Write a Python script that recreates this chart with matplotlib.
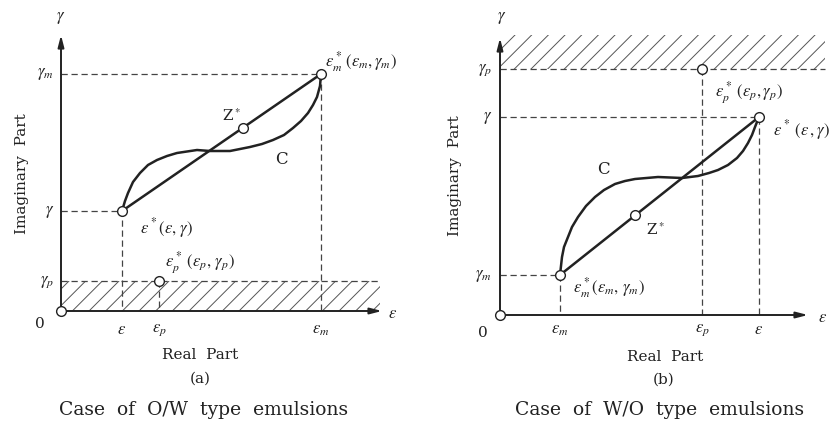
"""Complex permittivity diagrams for O/W and W/O type emulsions."""
import matplotlib.pyplot as plt

plt.rcParams["font.family"] = "DejaVu Serif"
plt.rcParams["mathtext.fontset"] = "stix"
plt.rcParams["hatch.linewidth"] = 0.7

INK = "#222222"

# panel (a): O/W  (arbitrary units)
a_eps, a_eps_p, a_eps_m = 6.1, 9.8, 26.0
a_gam, a_gam_p, a_gam_m = 10.0, 3.0, 23.7
a_z = (18.2, 18.3)
a_curve_x = [6.1, 6.4, 6.7, 7.2, 7.9, 8.7, 9.6, 10.6, 11.6, 13.6, 14.9, 16.9, 18.9,
             20.1, 21.2, 22.3, 23.2, 24.0, 24.7, 25.2, 25.6, 25.9, 26.0]
a_curve_y = [10.0, 11.0, 11.8, 12.9, 13.8, 14.6, 15.1, 15.5, 15.8, 16.1, 16.0, 16.0, 16.4,
             16.7, 17.1, 17.6, 18.3, 19.0, 19.8, 20.6, 21.4, 22.5, 23.7]

# panel (b): W/O
b_eps, b_eps_p, b_eps_m = 25.9, 20.2, 6.0
b_gam, b_gam_p, b_gam_m = 19.8, 24.6, 4.0
b_z = (13.5, 10.0)
b_curve_x = [6.0, 6.1, 6.2, 6.4, 6.8, 7.2, 7.8, 8.6, 9.5, 10.4, 11.5, 12.5, 13.5, 15.8,
             18.2, 19.8, 20.9, 21.8, 22.8, 23.7, 24.3, 24.8, 25.2, 25.5, 25.9]
b_curve_y = [4.0, 4.9, 5.8, 6.8, 7.8, 8.8, 9.8, 10.9, 11.8, 12.5, 13.1, 13.4, 13.6, 13.8,
             13.7, 13.9, 14.2, 14.5, 15.0, 15.7, 16.4, 17.2, 18.0, 18.8, 19.8]


def dashed(ax, xs, ys):
    ax.plot(xs, ys, ls=(0, (5, 3)), lw=0.9, color="#444444", zorder=2)


def circle(ax, x, y):
    ax.plot(x, y, "o", ms=7, mfc="white", mec=INK, mew=1.0, zorder=5)


def axes_arrows(ax, xend, yend):
    style = dict(arrowstyle="-|>,head_length=0.7,head_width=0.18", lw=1.4, color=INK,
                 shrinkA=0, shrinkB=0)
    ax.annotate("", xy=(xend, 0), xytext=(0, 0), arrowprops=style)
    ax.annotate("", xy=(0, yend), xytext=(0, 0), arrowprops=style)


def setup(ax, x0, x1, y0, y1):
    ax.set_xlim(x0, x1)
    ax.set_ylim(y0, y1)
    ax.axis("off")


fig = plt.figure(figsize=(8.38, 4.25), dpi=100)
ax1 = fig.add_axes([0, 0, 420 / 838, 1])
ax2 = fig.add_axes([420 / 838, 0, 418 / 838, 1])
setup(ax1, -6.1, 35.9, -11.4, 31.1)
setup(ax2, -8.0, 33.8, -11.0, 31.5)

tk = dict(fontsize=12, color=INK)

# ---- (a) ----
ax = ax1
ax.fill_between([0, 31.9], 0, a_gam_p, facecolor="none", edgecolor="#555555",
                hatch="//", lw=0, zorder=1)
axes_arrows(ax, 32.1, 27.6)
dashed(ax, [0, 31.9], [a_gam_p, a_gam_p])
dashed(ax, [0, a_eps, a_eps], [a_gam, a_gam, 0])
dashed(ax, [0, a_eps_m, a_eps_m], [a_gam_m, a_gam_m, 0])
dashed(ax, [a_eps_p, a_eps_p], [a_gam_p, 0])
ax.plot([a_eps, a_eps_m], [a_gam, a_gam_m], color=INK, lw=1.8, zorder=3)
ax.plot(a_curve_x, a_curve_y, color=INK, lw=1.8, zorder=3, solid_joinstyle="round")
for px, py in [(0, 0), (a_eps, a_gam), (a_eps_m, a_gam_m), (a_eps_p, a_gam_p), a_z]:
    circle(ax, px, py)

ax.text(0, 29.3, r"$\gamma$", ha="center", va="center", **tk)
ax.text(33.2, -0.2, r"$\varepsilon$", ha="center", va="center", **tk)
ax.text(-2.1, -1.3, "0", ha="center", va="center", fontsize=11, color=INK)
ax.text(-0.7, a_gam_m, r"$\gamma_m$", ha="right", va="center", **tk)
ax.text(-0.7, a_gam, r"$\gamma$", ha="right", va="center", **tk)
ax.text(-0.7, a_gam_p, r"$\gamma_p$", ha="right", va="center", **tk)
for xv, lab in [(a_eps, r"$\varepsilon$"), (a_eps_p, r"$\varepsilon_p$"), (a_eps_m, r"$\varepsilon_m$")]:
    ax.text(xv, -1.9, lab, ha="center", va="center", **tk)
ax.text(-3.9, 13.7, "Imaginary  Part", rotation=90, ha="center", va="center",
        fontsize=11, color=INK)
ax.text(13.9, -4.4, "Real  Part", ha="center", va="center", fontsize=11, color=INK)
ax.text(13.9, -6.8, "(a)", ha="center", va="center", fontsize=11, color=INK)
ax.text(14.3, -9.9, "Case  of  O/W  type  emulsions", ha="center", va="center",
        fontsize=13.5, color=INK)
ax.text(26.4, 24.9, r"$\varepsilon^*_m\,(\varepsilon_m, \gamma_m)$", ha="left", va="center", **tk)
ax.text(7.9, 8.3, r"$\varepsilon^*(\varepsilon,\,\gamma)$", ha="left", va="center", **tk)
ax.text(10.4, 4.9, r"$\varepsilon^*_p\;(\varepsilon_p,\,\gamma_p)$", ha="left", va="center", **tk)
ax.text(17.0, 19.5, r"Z$^*$", ha="center", va="center", fontsize=11, color=INK)
ax.text(22.0, 15.1, "C", ha="center", va="center", fontsize=12, color=INK)

# ---- (b) ----
ax = ax2
ax.fill_between([0, 32.5], b_gam_p, 28.0, facecolor="none", edgecolor="#555555",
                hatch="//", lw=0, zorder=1)
axes_arrows(ax, 30.8, 27.7)
dashed(ax, [0, 32.5], [b_gam_p, b_gam_p])
dashed(ax, [b_eps_p, b_eps_p], [b_gam_p, 0])
dashed(ax, [0, b_eps, b_eps], [b_gam, b_gam, 0])
dashed(ax, [0, b_eps_m, b_eps_m], [b_gam_m, b_gam_m, 0])
ax.plot([b_eps_m, b_eps], [b_gam_m, b_gam], color=INK, lw=1.8, zorder=3)
ax.plot(b_curve_x, b_curve_y, color=INK, lw=1.8, zorder=3, solid_joinstyle="round")
for px, py in [(0, 0), (b_eps, b_gam), (b_eps_m, b_gam_m), (b_eps_p, b_gam_p), b_z]:
    circle(ax, px, py)

ax.text(0.2, 29.8, r"$\gamma$", ha="center", va="center", **tk)
ax.text(32.3, -0.3, r"$\varepsilon$", ha="center", va="center", **tk)
ax.text(-1.7, -1.8, "0", ha="center", va="center", fontsize=11, color=INK)
ax.text(-0.8, b_gam_p, r"$\gamma_p$", ha="right", va="center", **tk)
ax.text(-0.8, b_gam, r"$\gamma$", ha="right", va="center", **tk)
ax.text(-0.8, b_gam_m, r"$\gamma_m$", ha="right", va="center", **tk)
for xv, lab in [(b_eps_m, r"$\varepsilon_m$"), (b_eps_p, r"$\varepsilon_p$"), (b_eps, r"$\varepsilon$")]:
    ax.text(xv, -1.5, lab, ha="center", va="center", **tk)
ax.text(-4.5, 13.9, "Imaginary  Part", rotation=90, ha="center", va="center",
        fontsize=11, color=INK)
ax.text(16.5, -4.2, "Real  Part", ha="center", va="center", fontsize=11, color=INK)
ax.text(16.4, -6.5, "(b)", ha="center", va="center", fontsize=11, color=INK)
ax.text(16.0, -9.5, "Case  of  W/O  type  emulsions", ha="center", va="center",
        fontsize=13.5, color=INK)
ax.text(21.5, 22.3, r"$\varepsilon^*_p\;(\varepsilon_p,\gamma_p)$", ha="left", va="center", **tk)
ax.text(27.3, 18.5, r"$\varepsilon^*\;(\varepsilon\,,\gamma)$", ha="left", va="center", **tk)
ax.text(7.3, 2.7, r"$\varepsilon^*_m(\varepsilon_m,\,\gamma_m)$", ha="left", va="center", **tk)
ax.text(15.5, 8.5, r"Z$^*$", ha="center", va="center", fontsize=11, color=INK)
ax.text(10.3, 14.5, "C", ha="center", va="center", fontsize=12, color=INK)

fig.savefig("out.png", dpi=100)
